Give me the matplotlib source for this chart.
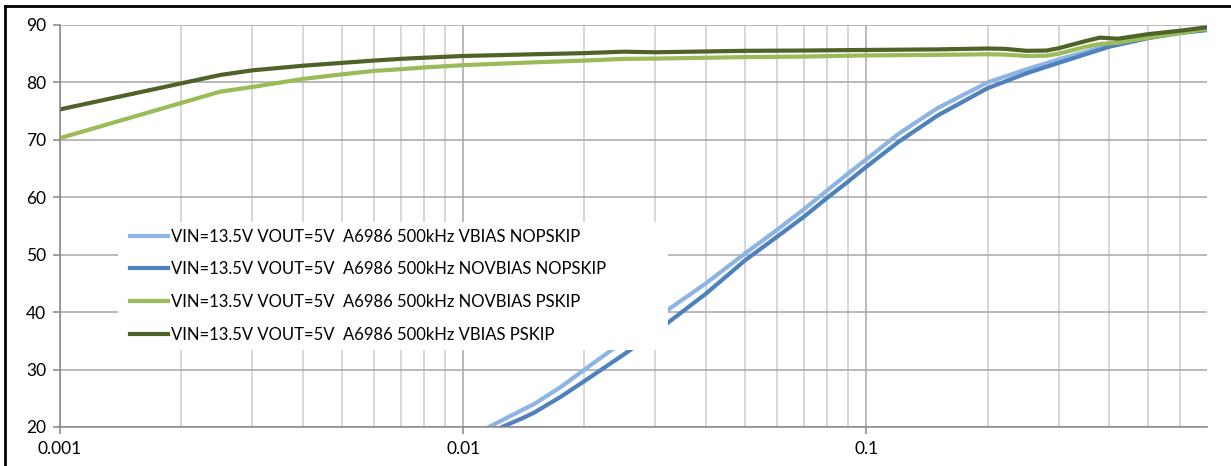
import matplotlib
matplotlib.use("Agg")
import matplotlib.pyplot as plt
from matplotlib.ticker import FixedLocator, NullFormatter, FuncFormatter
from matplotlib.patches import Rectangle
from matplotlib.lines import Line2D
import numpy as np

plt.rcParams['font.family'] = ['Lato', 'DejaVu Sans']

# load current (A) and efficiency (%)
x_pskip = [0.001, 0.0025, 0.003, 0.004, 0.005, 0.006, 0.007, 0.008, 0.01, 0.015,
           0.02, 0.025, 0.03, 0.05, 0.07, 0.1, 0.15, 0.2, 0.22, 0.25, 0.28, 0.3,
           0.35, 0.38, 0.42, 0.5, 0.6, 0.7]
vbias_pskip = [75.3, 81.3, 82.1, 82.9, 83.4, 83.8, 84.1, 84.3, 84.6, 84.9,
               85.1, 85.35, 85.25, 85.5, 85.55, 85.65, 85.75, 85.9, 85.85, 85.5, 85.55, 85.95,
               87.2, 87.8, 87.6, 88.4, 89.0, 89.6]
novbias_pskip = [70.3, 78.4, 79.2, 80.6, 81.4, 82.0, 82.3, 82.6, 83.0, 83.5,
                 83.8, 84.1, 84.15, 84.4, 84.5, 84.7, 84.8, 84.9, 84.85, 84.6, 84.65, 85.0,
                 86.2, 86.7, 86.9, 87.8, 88.6, 89.3]

x_vb_nop = [0.0116, 0.013, 0.015, 0.0175, 0.02, 0.025, 0.03, 0.04, 0.05, 0.06, 0.07, 0.08,
            0.09, 0.1, 0.12, 0.15, 0.2, 0.25, 0.3, 0.4, 0.5, 0.6, 0.7]
vbias_nopskip = [20, 21.8, 24.0, 27.0, 30.0, 34.9, 38.9, 45.0, 50.2, 54.3, 57.9, 61.2,
                 64.1, 66.6, 71.0, 75.5, 80.0, 82.3, 84.0, 86.5, 88.0, 88.7, 89.3]
x_nvb_nop = [0.0125, 0.014, 0.015, 0.0175, 0.02, 0.025, 0.03, 0.04, 0.05, 0.06, 0.07, 0.08,
             0.09, 0.1, 0.12, 0.15, 0.2, 0.25, 0.3, 0.4, 0.5, 0.6, 0.7]
novbias_nopskip = [20, 21.5, 22.5, 25.3, 28.0, 32.6, 36.5, 43.2, 49.0, 53.1, 56.6, 59.9,
                   62.7, 65.3, 69.6, 74.2, 79.0, 81.6, 83.4, 86.2, 87.7, 88.6, 89.1]

labels = ["VIN=13.5V VOUT=5V  A6986 500kHz VBIAS NOPSKIP",
          "VIN=13.5V VOUT=5V  A6986 500kHz NOVBIAS NOPSKIP",
          "VIN=13.5V VOUT=5V  A6986 500kHz NOVBIAS PSKIP",
          "VIN=13.5V VOUT=5V  A6986 500kHz VBIAS PSKIP"]
colors = ["#8db4e2", "#4f81bd", "#9bbb59", "#4f6228"]

fig = plt.figure(figsize=(12.31, 4.66), dpi=100)
ax = fig.add_axes([0.0487, 0.0837, 0.9318, 0.8627])

ax.plot(x_vb_nop, vbias_nopskip, color=colors[0], lw=3, label=labels[0])
ax.plot(x_nvb_nop, novbias_nopskip, color=colors[1], lw=3, label=labels[1])
ax.plot(x_pskip, novbias_pskip, color=colors[2], lw=3, label=labels[2])
ax.plot(x_pskip, vbias_pskip, color=colors[3], lw=3, label=labels[3])

ax.set_xscale('log')
ax.set_xlim(0.001, 0.7)
ax.set_ylim(20, 90)
ax.set_yticks(np.arange(20, 91, 10))
ax.xaxis.set_major_locator(FixedLocator([0.001, 0.01, 0.1]))
minors = [m * d for d in [0.001, 0.01, 0.1] for m in range(2, 10) if m * d <= 0.7]
ax.xaxis.set_minor_locator(FixedLocator(minors))
ax.xaxis.set_minor_formatter(NullFormatter())
ax.xaxis.set_major_formatter(FuncFormatter(lambda v, p: "%g" % v))

ax.grid(axis='y', color='#a6a6a6', lw=1.1)
ax.grid(axis='x', which='major', color='#a6a6a6', lw=1.1)
ax.grid(axis='x', which='minor', color='#cccccc', lw=1.1)
ax.set_axisbelow(True)

for s in ['top', 'right']:
    ax.spines[s].set_visible(False)
for s in ['left', 'bottom']:
    ax.spines[s].set_color('#868686')
    ax.spines[s].set_linewidth(1.1)
ax.tick_params(axis='both', which='major', color='#868686', labelsize=12.5, length=5, width=1.1, pad=5)
ax.tick_params(axis='x', which='minor', length=0)

# white legend box
ax.add_patch(Rectangle((0.0506, 0.1915), 0.4795, 0.318, transform=ax.transAxes,
                       facecolor='white', edgecolor='none', zorder=3))
leg = ax.legend(loc='upper left', bbox_to_anchor=(0.055, 0.51), frameon=False,
                fontsize=12.0, handlelength=2.3, handletextpad=0.15, labelspacing=1.0,
                borderaxespad=0)
leg.set_zorder(5)

# outer frame (left and top)
fig.add_artist(Line2D([0.004, 0.004], [0, 0.988], transform=fig.transFigure, color='black', lw=2))
fig.add_artist(Line2D([0.004, 1.0], [0.988, 0.988], transform=fig.transFigure, color='black', lw=2))

fig.savefig("out.png", dpi=100)
